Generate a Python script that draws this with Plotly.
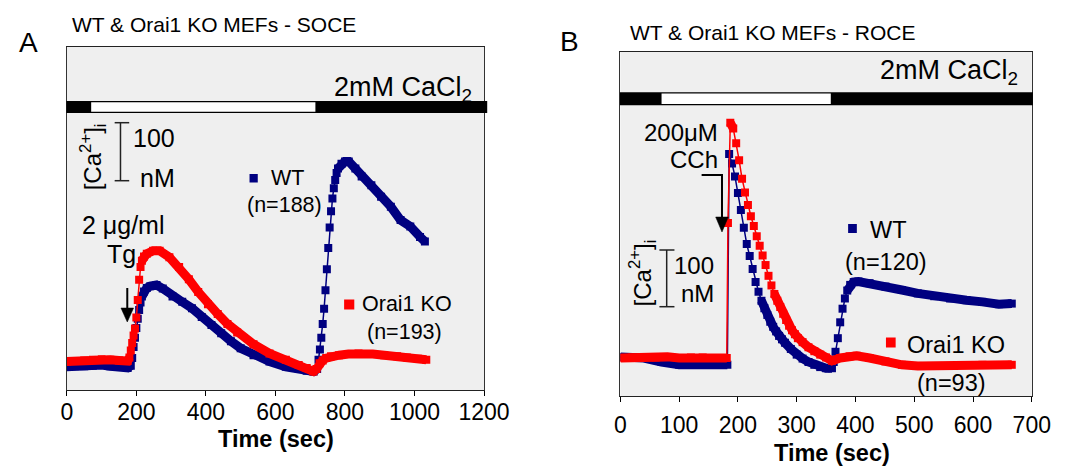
import plotly.graph_objects as go

# ---------------- data ----------------
# Panel A : SOCE, time (s) vs [Ca2+]i (nM)
A_t_wt = [0, 25, 50, 75, 100, 125, 150, 175, 184, 188,
          192, 196, 200, 204, 208, 212, 216, 222, 230, 240,
          258, 276, 304, 332, 360, 388, 416, 444, 472, 500,
          537, 583, 630, 667, 690, 710, 720, 724, 728, 732,
          736, 740, 744, 748, 752, 756, 760, 764, 768, 772,
          776, 780, 790, 800, 811, 830, 848, 876, 904, 932,
          960, 988, 1016, 1030]
A_wt = [50, 51, 51, 52, 53, 51, 50, 48, 52, 65,
        84, 100, 117, 133, 148, 161, 171, 180, 186, 189,
        191, 185, 171, 162, 151, 136, 122, 108, 94, 82,
        70, 59, 50, 47, 43, 42, 46, 62, 80, 100,
        124, 150, 182, 218, 255, 290, 318, 340, 358, 372,
        384, 392, 400, 404, 404, 392, 378, 363, 343, 326,
        303, 292, 274, 266]

A_t_ko = [0, 25, 50, 75, 100, 125, 150, 175, 180, 184,
          188, 192, 196, 200, 204, 208, 212, 216, 222, 230,
          248, 267, 295, 323, 351, 378, 406, 434, 462, 490,
          537, 583, 630, 667, 690, 709, 718, 727, 736, 746,
          760, 783, 810, 839, 880, 913, 950, 978, 1010, 1034]
A_ko = [59, 60, 61, 62, 63, 62, 61, 60, 66, 78,
        91, 104, 116, 135, 165, 200, 222, 233, 240, 245,
        250, 250, 239, 222, 201, 179, 158, 141, 124, 109,
        89, 73, 62, 53, 48, 42, 46, 56, 61, 65,
        68, 70, 72, 73, 72, 70, 68, 66, 64, 62]

# Panel B : ROCE
B_t_wt = [0, 20, 40, 70, 100, 130, 160, 182, 185, 190,
          195, 200, 205, 210, 215, 220, 225, 230, 235, 240,
          245, 250, 255, 260, 265, 270, 275, 280, 290, 300,
          310, 320, 330, 340, 350, 360, 363, 366, 370, 374,
          378, 382, 386, 391, 397, 405, 424, 451, 479, 506,
          534, 561, 589, 616, 644, 666]
B_wt = [57, 57, 55, 48, 43, 43, 43, 43, 415, 398,
        375, 346, 316, 285, 256, 235, 212, 189, 172, 156,
        143, 131, 119, 110, 102, 94, 88, 82, 71, 61,
        54, 48, 43, 39, 37, 37, 48, 66, 90, 118,
        142, 160, 174, 184, 189, 190, 187, 181, 175, 169,
        164, 160, 157, 154, 150, 151]

B_t_ko = [0, 20, 40, 60, 80, 100, 120, 140, 160, 181,
          183, 187, 192, 197, 202, 207, 212, 217, 222, 227,
          232, 237, 242, 247, 252, 257, 262, 267, 272, 277,
          282, 287, 292, 297, 302, 310, 320, 330, 340, 350,
          360, 374, 390, 402, 424, 451, 479, 506, 561, 616,
          666]
B_ko = [55, 56, 57, 56, 57, 55, 56, 56, 55, 55,
        293, 470, 460, 434, 404, 371, 347, 325, 305, 288,
        270, 253, 236, 219, 200, 183, 168, 156, 145, 133,
        122, 112, 104, 97, 90, 83, 74, 67, 61, 56,
        50, 55, 58, 59, 55, 49, 43, 41, 41, 43,
        43]

A_xticks = [0, 200, 400, 600, 800, 1000, 1200]
B_xticks = [0, 100, 200, 300, 400, 500, 600, 700]
A_white = [70, 715]    # Ca-free period (s)
B_white = [70, 358]

# ---------------- layout helpers ----------------
W, H = 1073, 467
FONT = "Liberation Sans, Arial, Helvetica, sans-serif"
NAVY = "#000080"
RED = "#ff0000"
BG = "#efefef"


def px(x):
    return x / W


def py(y):
    return 1 - y / H


A_box = (62.7, 492.7, 47, 390)     # left, right, top, bottom (px)
B_box = (633.3, 1057.3, 52, 396)
A_yr = [10, 601.4]
B_yr = [-12, 594.8]
A_xr = [0, 1200]
B_xr = [0, 700]


def band(t, v, box, xr, yr, thr=2.5):
    kx = (box[1] - box[0]) / (xr[1] - xr[0])
    ky = (box[3] - box[2]) / (yr[1] - yr[0])
    xs, ys = [], []
    for i in range(len(t)):
        if i > 0:
            s = abs((v[i] - v[i - 1]) * ky) / max(1e-9, (t[i] - t[i - 1]) * kx)
            if s > thr:
                xs.append(None)
                ys.append(None)
        xs.append(t[i])
        ys.append(v[i])
    return xs, ys


fig = go.Figure()


def add_series(t, v, color, box, xr, yr, xa, ya):
    bx, by = band(t, v, box, xr, yr)
    fig.add_trace(go.Scatter(x=bx, y=by, mode="lines", xaxis=xa, yaxis=ya,
                             line=dict(color=color, width=9), connectgaps=False,
                             hoverinfo="skip", showlegend=False))
    fig.add_trace(go.Scatter(x=t, y=v, mode="lines+markers", xaxis=xa, yaxis=ya,
                             line=dict(color=color, width=1.5),
                             marker=dict(symbol="square", size=8, color=color),
                             showlegend=False))


add_series(A_t_wt, A_wt, NAVY, A_box, A_xr, A_yr, "x", "y")
add_series(A_t_ko, A_ko, RED, A_box, A_xr, A_yr, "x", "y")
add_series(B_t_wt, B_wt, NAVY, B_box, B_xr, B_yr, "x2", "y2")
add_series(B_t_ko, B_ko, RED, B_box, B_xr, B_yr, "x2", "y2")

tickfont = dict(family=FONT, size=23, color="black")


def xaxis(box, xr, ticks, anchor, standoff):
    return dict(domain=[px(box[0]), px(box[1])], range=xr, tickvals=ticks,
                ticktext=[str(v) for v in ticks], ticks="outside", ticklen=5,
                tickcolor="black", tickwidth=1, showline=True, linecolor="#222",
                linewidth=1, mirror=True, showgrid=False, zeroline=False,
                tickfont=tickfont, anchor=anchor, ticklabelstandoff=standoff,
                fixedrange=True)


def yaxis(box, yr, anchor):
    return dict(domain=[py(box[3]), py(box[2])], range=yr, showticklabels=False,
                ticks="", showline=True, linecolor="#333", linewidth=1,
                mirror=True, showgrid=False, zeroline=False, anchor=anchor,
                fixedrange=True)


shapes = []


def rect(x0, x1, y0, y1, color, xref="paper"):
    shapes.append(dict(type="rect", xref=xref, yref="paper",
                       x0=x0 if xref != "paper" else px(x0),
                       x1=x1 if xref != "paper" else px(x1),
                       y0=py(y0), y1=py(y1), fillcolor=color, line=dict(width=0),
                       layer="above"))


def line(x0, y0, x1, y1, w=1.5, color="#222"):
    shapes.append(dict(type="line", xref="paper", yref="paper", x0=px(x0), y0=py(y0),
                       x1=px(x1), y1=py(y1), line=dict(color=color, width=w)))


def path(pts, fill=None, w=2):
    d = "M " + " L ".join(f"{px(a):.5f},{py(b):.5f}" for a, b in pts)
    if fill:
        d += " Z"
    shapes.append(dict(type="path", xref="paper", yref="paper", path=d,
                       fillcolor=fill if fill else "rgba(0,0,0,0)",
                       line=dict(color="black", width=w if not fill else 0.5)))


# solution bars
rect(62.2, 496, 101, 113, "black")
rect(A_white[0], A_white[1], 102.3, 111.7, "white", xref="x")
rect(632.8, 1058.5, 92.3, 105.3, "black")
rect(B_white[0], B_white[1], 93.6, 104.0, "white", xref="x2")

# scale bars
line(118, 122.7, 118, 180.7)
line(112, 122.7, 127, 122.7)
line(112, 180.7, 127, 180.7)
line(681, 250, 681, 306.7)
line(673.5, 250, 689, 250)
line(673.5, 306.7, 689, 306.7)

# arrows
path([(125, 288), (125, 310)], w=2)
path([(118.5, 308), (131.5, 308), (125, 322)], fill="black")
path([(717, 175), (738, 175), (738, 219)], w=2)
path([(731.5, 217), (744.5, 217), (738, 232)], fill="black")

# legend swatches
rect(251, 259.5, 174, 182.5, NAVY)
rect(348.5, 359, 299.5, 309.5, RED)
rect(868, 877, 224, 233, NAVY)
rect(907, 917, 337.5, 347.5, RED)

annotations = []


def ann(text, x, y, size, xanchor="center", yanchor="middle", bold=False, angle=0):
    annotations.append(dict(text=text, x=px(x), y=py(y), xref="paper", yref="paper",
                            showarrow=False, xanchor=xanchor, yanchor=yanchor,
                            textangle=angle,
                            font=dict(family=FONT, size=size, color="black",
                                      weight="bold" if bold else "normal")))


ann("A", 23.5, 42, 28)
ann("B", 581, 41, 28)
ann("WT &amp; Orai1 KO MEFs - SOCE", 66, 25, 21, xanchor="left")
ann("WT &amp; Orai1 KO MEFs - ROCE", 641, 32.5, 21, xanchor="left")
ann("2mM CaCl<sub>2</sub>", 482, 89, 27, xanchor="right")
ann("2mM CaCl<sub>2</sub>", 1045, 72, 27, xanchor="right")
ann("[Ca<sup>2+</sup>]<sub>i</sub>", 90, 157, 24, angle=-90)
ann("[Ca<sup>2+</sup>]<sub>i</sub>", 656, 273, 24, angle=-90)
ann("100", 176, 138, 25, xanchor="right")
ann("nM", 176, 178, 25, xanchor="right")
ann("100", 732, 265, 24, xanchor="right")
ann("nM", 732, 293, 24, xanchor="right")
ann("2 \u03bcg/ml", 121, 225, 25)
ann("Tg", 119, 254, 25)
ann("200\u03bcM", 736, 132, 24, xanchor="right")
ann("CCh", 736, 160, 24, xanchor="right")
ann("WT", 271, 178, 21.5, xanchor="left")
ann("(n=188)", 287.5, 205, 21.5)
ann("Orai1 KO", 365, 304, 21.5, xanchor="left")
ann("(n=193)", 410.5, 332, 21.5)
ann("WT", 889, 230, 23.5, xanchor="left")
ann("(n=120)", 907.5, 262, 23.5)
ann("Orai1 KO", 927, 345, 23.5, xanchor="left")
ann("(n=93)", 975, 383, 23.5)
ann("Time (sec)", 278, 439, 23.5, bold=True)
ann("Time (sec)", 851, 453, 23.5, bold=True)

fig.update_layout(
    width=W, height=H, margin=dict(l=0, r=0, t=0, b=0),
    paper_bgcolor="white", plot_bgcolor=BG, showlegend=False,
    xaxis=xaxis(A_box, A_xr, A_xticks, "y", -4),
    yaxis=yaxis(A_box, A_yr, "x"),
    xaxis2=xaxis(B_box, B_xr, B_xticks, "y2", 3),
    yaxis2=yaxis(B_box, B_yr, "x2"),
    shapes=shapes, annotations=annotations,
    font=dict(family=FONT, color="black"),
)

fig.write_html("out.html")
